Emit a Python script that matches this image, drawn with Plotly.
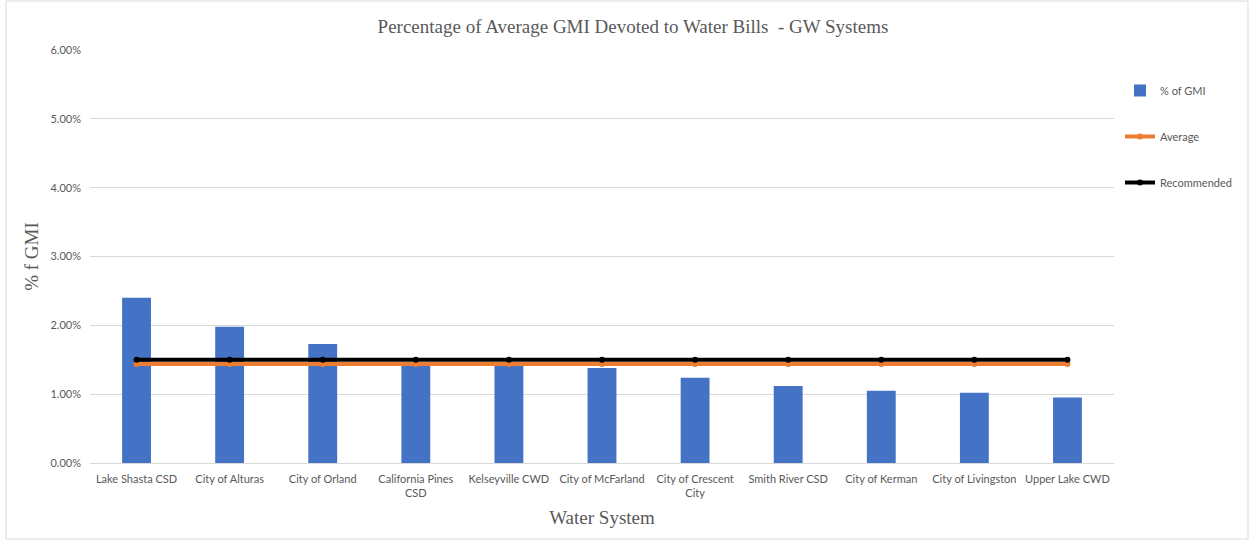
import plotly.graph_objects as go

# Water systems (groundwater) and share of average GMI spent on water bills
systems = [
    "Lake Shasta CSD", "City of Alturas", "City of Orland", "California Pines<br>CSD",
    "Kelseyville CWD", "City of McFarland", "City of Crescent<br>City", "Smith River CSD",
    "City of Kerman", "City of Livingston", "Upper Lake CWD",
]
pct_gmi = [0.0240, 0.0198, 0.0173, 0.0145, 0.0145, 0.0138, 0.0124, 0.0112, 0.0105, 0.0102, 0.0095]
average = [0.0144, 0.0144, 0.0144, 0.0144, 0.0144, 0.0144, 0.0144, 0.0144, 0.0144, 0.0144, 0.0144]
recommended = [0.015, 0.015, 0.015, 0.015, 0.015, 0.015, 0.015, 0.015, 0.015, 0.015, 0.015]
y_ticks = [0, 0.01, 0.02, 0.03, 0.04, 0.05, 0.06]

W, H = 1251, 541
ML, MR, MT, MB = 90, 137, 50, 78
PW, PH = W - ML - MR, H - MT - MB

GREY = "#595959"
TICK_FONT = dict(family="Lato, 'Open Sans', sans-serif", size=11, color=GREY)
SERIF = "'Liberation Serif', 'Times New Roman', serif"

fig = go.Figure()
fig.add_trace(go.Bar(
    x=systems, y=pct_gmi, name="% of GMI",
    marker=dict(color="#4472c4", line=dict(width=0)),
    width=0.31, legendgroup="a",
))
fig.add_trace(go.Scatter(
    x=systems, y=average, name="Average", mode="lines+markers",
    line=dict(color="#ed7d31", width=4), marker=dict(size=6, color="#ed7d31"),
    legendgroup="b",
))
fig.add_trace(go.Scatter(
    x=systems, y=recommended, name="Recommended", mode="lines+markers",
    line=dict(color="#000000", width=4), marker=dict(size=6, color="#000000"),
    legendgroup="c",
))


def px_x(p):
    return (p - ML) / PW


def px_y(p):
    return (H - MB - p) / PH


fig.update_layout(
    width=W, height=H,
    margin=dict(l=ML, r=MR, t=MT, b=MB, autoexpand=False),
    paper_bgcolor="white", plot_bgcolor="white",
    title=dict(
        text="Percentage of Average GMI Devoted to Water Bills  - GW Systems",
        x=px_x(633), xref="paper", xanchor="center",
        y=1 - 26 / H, yanchor="middle",
        font=dict(family=SERIF, size=19, color=GREY),
    ),
    xaxis=dict(
        range=[-0.5, len(systems) - 0.5], autorange=False,
        tickfont=TICK_FONT, showgrid=False, showline=False, ticks="",
        tickangle=0, ticklabelstandoff=8,
        title=dict(text="Water System", font=dict(family=SERIF, size=19, color=GREY), standoff=12),
    ),
    yaxis=dict(
        range=[0, 0.06], tickvals=y_ticks, tickformat=".2%",
        tickfont=TICK_FONT, gridcolor="#d9d9d9", gridwidth=1,
        zeroline=True, zerolinecolor="#d9d9d9", zerolinewidth=1,
        showline=False, ticks="", ticklabelstandoff=8,
        title=dict(text="% f GMI", font=dict(family=SERIF, size=19, color=GREY), standoff=6),
    ),
    legend=dict(
        x=px_x(1120), y=px_y(76), xanchor="left", yanchor="top",
        font=dict(family="Lato, 'Open Sans', sans-serif", size=11, color=GREY),
        tracegroupgap=27, itemwidth=30, bgcolor="rgba(0,0,0,0)",
    ),
    bargap=0.69,
    shapes=[dict(
        type="rect", xref="paper", yref="paper",
        x0=px_x(6), x1=px_x(1248), y0=px_y(539), y1=px_y(1),
        line=dict(color="#d9d9d9", width=1), fillcolor="rgba(0,0,0,0)", layer="below",
    )],
)

fig.write_html("out.html")
